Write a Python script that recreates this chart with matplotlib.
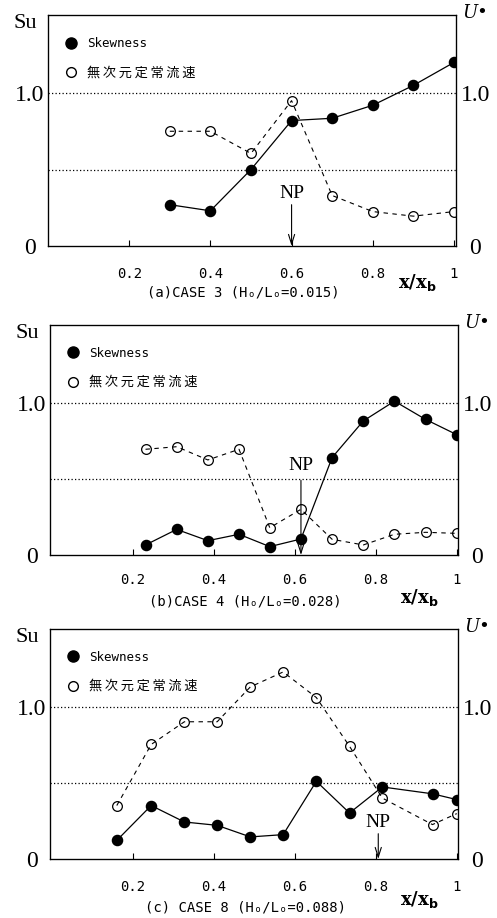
"""
Skewness and dimensionless steady velocity across the surf zone
CASE 3, CASE 4, CASE 8
"""

import matplotlib
matplotlib.use('Agg')
import matplotlib.pyplot as plt
from matplotlib.lines import Line2D

# ==================== DATA ====================
# (a) CASE 3
x_a = [0.3, 0.4, 0.5, 0.6, 0.7, 0.8, 0.9, 1.0]
su_a = [0.27, 0.23, 0.50, 0.82, 0.835, 0.92, 1.05, 1.20]
u_a = [0.75, 0.75, 0.605, 0.95, 0.33, 0.225, 0.195, 0.225]
np_a = 0.6

# (b) CASE 4
x_b = [0.231, 0.308, 0.385, 0.462, 0.538, 0.615, 0.692, 0.769, 0.846, 0.923, 1.0]
su_b = [0.066, 0.168, 0.094, 0.136, 0.055, 0.105, 0.64, 0.88, 1.01, 0.89, 0.79]
u_b = [0.694, 0.711, 0.624, 0.694, 0.179, 0.30, 0.103, 0.066, 0.136, 0.149, 0.142]
np_b = 0.615

# (c) CASE 8
x_c = [0.16, 0.245, 0.327, 0.408, 0.49, 0.571, 0.653, 0.735, 0.816, 0.94, 1.0]
su_c = [0.122, 0.351, 0.243, 0.221, 0.145, 0.160, 0.510, 0.302, 0.473, 0.428, 0.39]
u_c = [0.351, 0.752, 0.901, 0.901, 1.13, 1.228, 1.06, 0.74, 0.40, 0.226, 0.298]
np_c = 0.806

x_ticks = [0.2, 0.4, 0.6, 0.8, 1.0]
x_ticklabels = ['0.2', '0.4', '0.6', '0.8', '1']
y_ticks = [0, 1.0]
y_ticklabels = ['0', '1.0']

captions = ['(a)CASE 3 (H\u2092/L\u2092=0.015)',
            '(b)CASE 4 (H\u2092/L\u2092=0.028)',
            '(c) CASE 8 (H\u2092/L\u2092=0.088)']

legend_labels = ['Skewness', '\u2009'.join('無次元定常流速')]

MONO = ['DejaVu Sans Mono', 'DejaVu Sans']
CJK = ['Noto Sans CJK JP', 'DejaVu Sans']


def draw_panel(rect, xlim, xs, su, u, np_x, np_text_y, np_arrow_top, caption,
               tick_pad, cap_y, xlab_y):
    ax = fig.add_axes(rect)
    ax.set_xlim(*xlim)
    ax.set_ylim(0, 1.51)

    # reference lines
    for yv in (0.5, 1.0):
        ax.axhline(yv, color='black', linestyle=(0, (1, 1.8)), linewidth=0.9)

    ax.plot(xs, u, color='black', linestyle=(0, (4, 4)), linewidth=0.8,
            marker='o', markersize=7, markerfacecolor='none',
            markeredgecolor='black', markeredgewidth=0.9)
    ax.plot(xs, su, color='black', linestyle='-', linewidth=0.9,
            marker='o', markersize=7.3, markerfacecolor='black',
            markeredgecolor='black')

    # NP arrow
    ax.annotate('', xy=(np_x, 0), xytext=(np_x, np_arrow_top),
                arrowprops=dict(arrowstyle='->,head_length=0.7,head_width=0.22',
                                color='black', linewidth=0.8,
                                shrinkA=0, shrinkB=0))
    ax.text(np_x, np_text_y, 'NP', ha='center', va='center',
            fontsize=14, family='Liberation Serif')

    # axes styling
    for sp in ax.spines.values():
        sp.set_linewidth(0.9)
    ax.set_xticks(x_ticks)
    ax.set_xticklabels(x_ticklabels, family=MONO, fontsize=10)
    ax.tick_params(axis='x', direction='in', length=4, pad=tick_pad)
    ax.set_yticks(y_ticks)
    ax.set_yticklabels(y_ticklabels, family='Liberation Serif', fontsize=17,
                       ha='center')
    ax.tick_params(axis='y', length=0, pad=13)

    ax2 = ax.twinx()
    ax2.set_ylim(0, 1.51)
    ax2.set_yticks(y_ticks)
    ax2.set_yticklabels(y_ticklabels, family='Liberation Serif', fontsize=17,
                        ha='center')
    ax2.tick_params(axis='y', length=0, pad=14)

    ax.text(-0.056, 0.965, 'Su', transform=ax.transAxes, ha='center',
            va='center', fontsize=16, family='Liberation Serif')
    ax.text(1.047, 1.01, 'U\u2022', transform=ax.transAxes, ha='center',
            va='center', fontsize=13, family='DejaVu Serif', style='italic')
    ax.text(0.904, xlab_y, 'x/x$_\\mathbf{b}$', transform=ax.transAxes,
            ha='center', va='center', fontsize=13, family='DejaVu Serif',
            fontweight='bold')
    ax.text(0.479, cap_y, caption, transform=ax.transAxes, ha='center',
            va='center', fontsize=10, family=MONO)

    handles = [Line2D([], [], linestyle='none', marker='o', markersize=8,
                      markerfacecolor='black', markeredgecolor='black'),
               Line2D([], [], linestyle='none', marker='o', markersize=7,
                      markerfacecolor='none', markeredgecolor='black')]
    leg = ax.legend(handles, legend_labels, loc='upper left',
                    bbox_to_anchor=(0.04, 0.905), frameon=False,
                    handlelength=1.0, handletextpad=0.8, labelspacing=1.3,
                    borderpad=0, borderaxespad=0,
                    prop={'family': MONO, 'size': 9})
    leg.get_texts()[1].set_fontfamily(CJK)
    leg.get_texts()[1].set_fontsize(9.5)
    return ax


fig = plt.figure(figsize=(4.97, 9.18), dpi=100)

draw_panel([48 / 497, 1 - 246 / 918, 408 / 497, 231 / 918], (0, 1.005),
           x_a, su_a, u_a, np_a, 0.34, 0.27, captions[0],
           tick_pad=15, cap_y=-0.203, xlab_y=-0.16)
draw_panel([50 / 497, 1 - 555 / 918, 408 / 497, 230 / 918], (-0.005, 1.003),
           x_b, su_b, u_b, np_b, 0.585, 0.49, captions[1],
           tick_pad=13, cap_y=-0.204, xlab_y=-0.183)
draw_panel([50 / 497, 1 - 859 / 918, 408 / 497, 230 / 918], (-0.005, 1.003),
           x_c, su_c, u_c, np_c, 0.237, 0.166, captions[2],
           tick_pad=15, cap_y=-0.213, xlab_y=-0.178)

fig.savefig('out.png', dpi=100)
plt.close(fig)
